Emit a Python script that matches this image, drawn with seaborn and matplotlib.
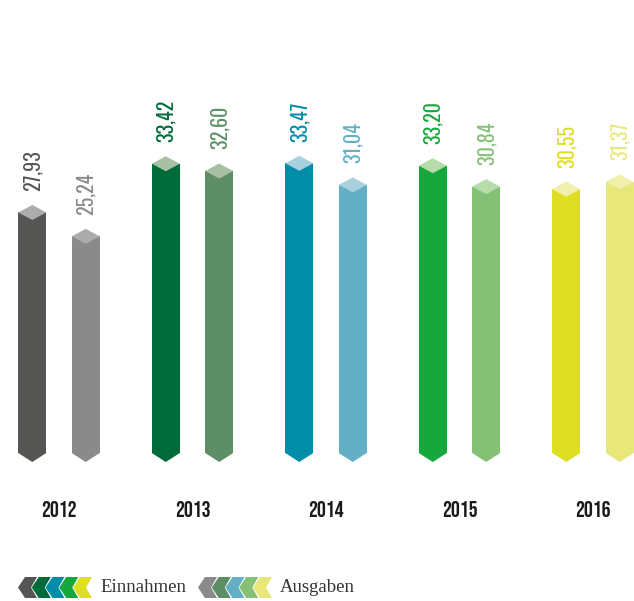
import pandas as pd
import numpy as np
import seaborn as sns
import matplotlib.pyplot as plt
from matplotlib.patches import Polygon

#--------------------------------------------------------
# Data
#--------------------------------------------------------

years = ["2012", "2013", "2014", "2015", "2016"]
einnahmen = [27.93, 33.42, 33.47, 33.20, 30.55]
ausgaben = [25.24, 32.60, 31.04, 30.84, 31.37]
series = ["Einnahmen", "Ausgaben"]

col_ein = ["#555553", "#006B3A", "#008DA9", "#17A73C", "#E0DE22"]
col_aus = ["#8A8A8A", "#5E8E66", "#63AFC5", "#84C175", "#E8E87A"]
col_cap = ["#ACACAC", "#A8BFA3", "#A9D1DD", "#B6DCAA", "#F1EFAB"]

labels_ein = [f"{v:.2f}".replace(".", ",") for v in einnahmen]
labels_aus = [f"{v:.2f}".replace(".", ",") for v in ausgaben]

df = pd.DataFrame({
    "Jahr": years * 2,
    "Wert": einnahmen + ausgaben,
    "Art": [series[0]] * 5 + [series[1]] * 5,
})

#--------------------------------------------------------
# Plot
#--------------------------------------------------------

sns.set_theme(style="white")
num_font = ['Oswald', 'Roboto Condensed', 'Liberation Sans Narrow', 'DejaVu Sans']
year_font = ['Bebas Neue', 'Oswald', 'Roboto Condensed', 'DejaVu Sans']
serif_font = ['Liberation Serif', 'DejaVu Serif']
plt.rcParams['font.family'] = num_font

W, H = 634, 601
fig = plt.figure(figsize=(W / 100, H / 100), dpi=100)
ax = fig.add_axes([0, 0, 1, 1])

sns.barplot(data=df, x="Jahr", y="Wert", hue="Art", width=0.8, gap=0.475,
            legend=False, ax=ax, errorbar=None, linewidth=0)

px_per_unit = 8.88
cap_h = 15 / px_per_unit      # diamond height
v_h = 9 / px_per_unit         # pointed bottom

bars = ax.patches[:10]
colors = col_ein + col_aus
values = einnahmen + ausgaben
texts = labels_ein + labels_aus
caps = col_cap + col_cap

for bar, c, v, t, cc in zip(bars, colors, values, texts, caps):
    x0 = bar.get_x()
    w = bar.get_width()
    xc = x0 + w / 2
    bar.set_facecolor(c)
    bar.set_edgecolor("none")
    bar.set_height(v - cap_h / 2)
    ax.add_patch(Polygon([(x0, 0), (x0 + w, 0), (xc, -v_h)], closed=True,
                         facecolor=c, edgecolor="none"))
    ax.add_patch(Polygon([(xc, v), (x0 + w, v - cap_h / 2), (xc, v - cap_h),
                          (x0, v - cap_h / 2)], closed=True,
                         facecolor=cc, edgecolor="none"))
    ax.text(xc, v + 1.6, t, rotation=90, ha="center", va="bottom",
            fontsize=14.5, fontweight="light", color=c, family=num_font)

for i, y in enumerate(years):
    ax.text(i, -6.3, y, ha="center", va="center", fontsize=16,
            fontweight="bold", color="#1a1a1a", family=year_font)

ax.set_ylim(-(H - 453) / px_per_unit, 453 / px_per_unit)
ax.set_xlim(-59 / 133.5, (W - 59) / 133.5)
ax.axis("off")

# legend in pixel space
lax = fig.add_axes([0, 0, 1, 1])
lax.set_xlim(0, W)
lax.set_ylim(H, 0)
lax.axis("off")

top, bot = 577, 598
mid = (top + bot) / 2

def chevrons(x_start, cols):
    for k, c in enumerate(cols):
        x = x_start + 13.75 * k
        lax.add_patch(Polygon([(x, mid), (x + 7, top), (x + 19, top),
                               (x + 13, mid), (x + 19, bot), (x + 7, bot)],
                              closed=True, facecolor=c, edgecolor="none"))

chevrons(18, col_ein)
lax.text(100, mid, "Einnahmen", ha="left", va="center", fontsize=13.5,
         family=serif_font, color="#333333")
chevrons(198, col_aus)
lax.text(280, mid, "Ausgaben", ha="left", va="center", fontsize=13.5,
         family=serif_font, color="#333333")

plt.savefig("out.png", dpi=100)
